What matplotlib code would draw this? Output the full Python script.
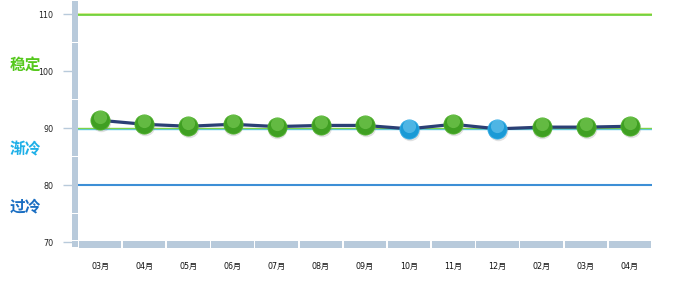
import matplotlib
matplotlib.use("Agg")
import matplotlib.pyplot as plt
import matplotlib.transforms as mtransforms
from matplotlib.patches import Rectangle
import numpy as np

plt.rcParams['font.family'] = ['DejaVu Sans', 'Noto Sans CJK SC']

months = ["03月", "04月", "05月", "06月", "07月", "08月", "09月",
          "10月", "11月", "12月", "02月", "03月", "04月"]
values = [91.4, 90.7, 90.35, 90.7, 90.3, 90.5, 90.5, 89.9, 90.7, 89.9, 90.2, 90.2, 90.35]
y_ticks = [70, 80, 90, 100, 110]
zone_labels = ["稳定", "渐冷", "过冷"]
zone_label_values = [101.2, 86.3, 76.3]
zone_colors = ["#55c81c", "#1fb0e8", "#1a6ec2"]

W, H = 675, 285
fig = plt.figure(figsize=(W / 100, H / 100), dpi=100)
fig.patch.set_facecolor("white")

ymin, ymax = 69.0, 112.5
# main axes: x 78..652 px, y 0..248 px from top
ax = fig.add_axes([78 / W, (H - 248) / H, 574 / W, 248 / H])
ax.set_xlim(-0.5, len(months) - 0.5)
ax.set_ylim(ymin, ymax)
ax.axis("off")

bar_col = "#b8cadb"
# bottom segmented bar
for i in range(len(months)):
    ax.add_patch(Rectangle((i - 0.5 + 0.02, ymin), 0.96, 70.2 - ymin,
                           facecolor=bar_col, edgecolor="none", zorder=1))

# left bar axes
axl = fig.add_axes([72 / W, (H - 248) / H, 6 / W, 248 / H])
axl.set_ylim(ymin, ymax)
axl.set_xlim(0, 1)
for s in axl.spines.values():
    s.set_visible(False)
axl.set_xticks([])
seg_edges = [ymin, 70.35, 75, 85, 95, 105, ymax]
for a, b in zip(seg_edges[:-1], seg_edges[1:]):
    axl.add_patch(Rectangle((0, a + 0.1), 1, b - a - 0.2,
                            facecolor=bar_col, edgecolor="none"))
axl.set_yticks(y_ticks)
axl.set_yticklabels([str(v) for v in y_ticks], fontsize=5.8, color="#222222")
axl.tick_params(axis="y", length=6.5, width=1.0, color=bar_col, pad=7)

# reference lines
ax.axhline(110, color="#74d23e", lw=2.0, zorder=2)
ax.axhline(110.15, color="#e6f0a0", lw=0.6, zorder=2)
ax.axhline(89.87, color="#5cc8f0", lw=1.0, zorder=2)
ax.axhline(90.07, color="#7fd24a", lw=1.0, zorder=2)
ax.axhline(80, color="#3d8fd6", lw=1.5, zorder=2)

x = np.arange(len(months))
ax.plot(x, values, color="#2b3f75", lw=2.3, zorder=3, solid_joinstyle="round")

shadow_tr = mtransforms.offset_copy(ax.transData, fig=fig, x=0.8, y=-2.0, units="dots")
hl_tr = mtransforms.offset_copy(ax.transData, fig=fig, x=0, y=3.0, units="dots")
for xi, v in zip(x, values):
    if v >= 90:
        face, edge, light = "#3f9f22", "#4fb22c", "#8fdc6a"
    else:
        face, edge, light = "#1a9ad6", "#33ade6", "#8fd8f6"
    ax.plot(xi, v, "o", ms=14, color="#888888", alpha=0.25, mec="none",
            transform=shadow_tr, zorder=4)
    ax.plot(xi, v, "o", ms=13.8, mfc=face, mec=edge, mew=0.6, zorder=5)
    ax.plot(xi, v, "o", ms=9.5, mfc=light, mec="none", alpha=0.45,
            transform=hl_tr, zorder=6)

# x labels
for xi, m in zip(x, months):
    ax.text(xi, 65.7, m, fontsize=5.8, ha="center", va="center",
            color="#111111", clip_on=False)

# zone labels
blend = mtransforms.blended_transform_factory(fig.transFigure, ax.transData)
for lab, v, c in zip(zone_labels, zone_label_values, zone_colors):
    fig.text(25 / W, v, lab, fontsize=11.3, fontweight="bold", color=c,
             ha="center", va="center", family=["Noto Sans CJK SC"],
             transform=blend)

fig.savefig("out.png", dpi=100, facecolor="white")
